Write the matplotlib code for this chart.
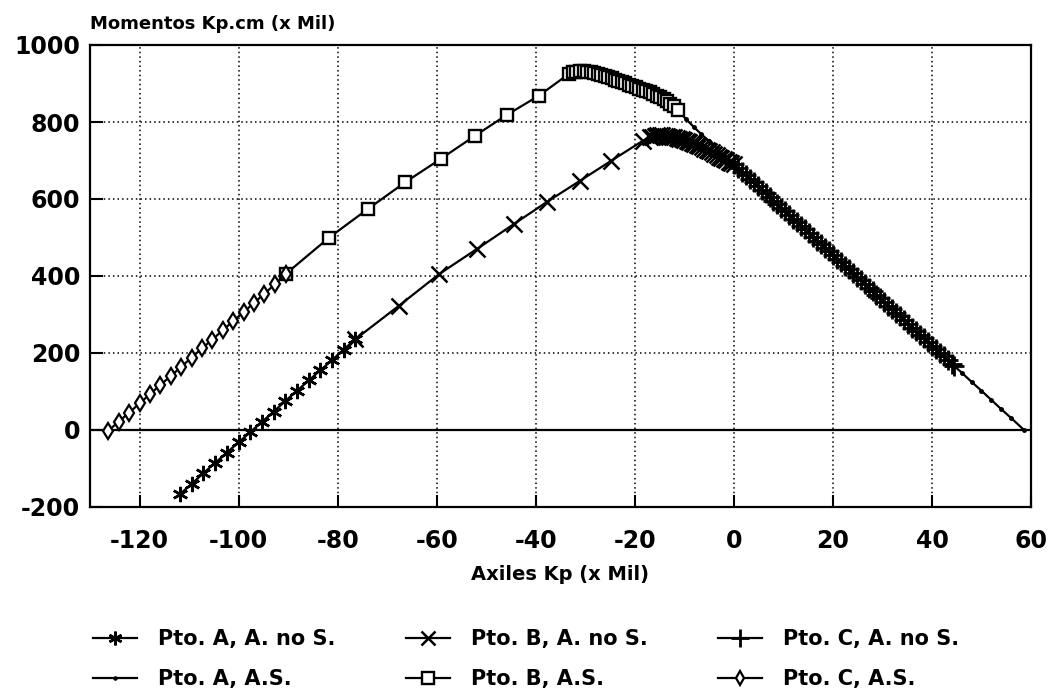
import matplotlib
matplotlib.use('Agg')
import matplotlib.pyplot as plt

# ----------------------------------------------------------------
# Data (Axiles Kp x Mil, Momentos Kp.cm x Mil)
# ----------------------------------------------------------------
# upper curve: Pto. C, A.S. (diamonds) -> Pto. B, A.S. (squares) -> Pto. A, A.S. (dots)
c_as_x = [-126.3, -124.2, -122.1, -120.0, -117.9, -115.8, -113.7, -111.6, -109.5,
          -107.4, -105.3, -103.2, -101.1, -99.0, -96.9, -94.8, -92.7, -90.5]
c_as_y = [-2, 22, 45, 69, 93, 117, 140, 164, 188,
          212, 235, 259, 283, 306, 330, 354, 378, 405]

b_as_x = [-90.5, -81.8, -73.9, -66.3, -59.2, -52.3, -45.9, -39.4,
          -33.3, -32.5, -31.8, -31.0, -30.3, -29.6, -28.9, -28.2, -27.5,
          -26.8, -26.1, -25.4, -24.7, -24.0, -23.3, -22.6, -21.9, -21.2,
          -20.5, -19.8, -19.1, -18.4, -17.7, -17.0, -16.3, -15.6, -14.9,
          -14.2, -13.5, -12.8, -12.1, -11.3]
b_as_y = [405, 499, 574, 644, 704, 764, 818, 868,
          925, 929, 931, 932, 932, 931, 929, 927, 925,
          922, 919, 916, 913, 910, 907, 903, 900, 897,
          893, 890, 886, 883, 880, 877, 873, 868, 864,
          859, 854, 848, 842, 832]

a_as_x = [-11.3, -9.7, -8.0, -6.7, -5.0, -3.5, -2.0, 0.0, 2.0, 4.0, 6.0, 8.0,
          10.0, 12.0, 14.0, 16.0, 18.0, 20.0, 22.0, 24.0, 26.0, 28.0, 30.0,
          32.0, 34.0, 36.0, 38.0, 40.0, 42.0, 44.0, 46.0, 48.0, 50.0, 52.0,
          54.0, 56.0, 58.6]
a_as_y = [832, 808, 786, 770, 750, 732, 714, 690, 666, 643, 619, 596,
          572, 549, 525, 502, 478, 455, 431, 408, 384, 360, 337,
          313, 290, 266, 243, 219, 196, 172, 149, 125, 102, 78,
          54, 31, 0]

# lower curve: Pto. A, A. no S. (asterisks) -> Pto. B (x) -> Pto. C (+)
a_nos_x = [-111.8, -109.4, -107.1, -104.7, -102.4, -100.0, -97.6, -95.3,
           -92.9, -90.6, -88.2, -85.8, -83.5, -81.1, -78.8, -76.4]
a_nos_y = [-166, -139, -112, -85, -59, -32, -5, 21,
           48, 75, 102, 129, 155, 182, 209, 236]

b_nos_x = [-76.4, -67.7, -59.5, -51.9, -44.4, -37.8, -31.1, -24.8, -18.4,
           -17.0, -16.5, -16.0, -15.5, -15.0, -14.5, -14.0, -13.5, -13.0,
           -12.5, -12.0, -11.5, -11.0, -10.5, -10.0, -9.5, -9.0, -8.5,
           -8.0, -7.5, -7.0, -6.5, -6.0, -5.5, -5.0, -4.5, -4.0, -3.5,
           -3.0, -2.5, -2.0, -1.5, -1.0, -0.5, 0.0]
b_nos_y = [236, 322, 405, 470, 535, 592, 647, 699, 751,
           760, 762, 764, 765, 765, 765, 764, 763, 762,
           761, 760, 758, 757, 755, 753, 751, 748, 746,
           743, 740, 737, 734, 731, 728, 724, 721, 717, 714,
           710, 707, 703, 700, 697, 693, 690]

c_nos_x = [0.0, 0.8, 1.6, 2.4, 3.2, 4.0, 4.8, 5.6, 6.4, 7.2, 8.0, 8.8, 9.6,
           10.4, 11.2, 12.0, 12.8, 13.6, 14.4, 15.2, 16.0, 16.8, 17.6, 18.4,
           19.2, 20.0, 20.8, 21.6, 22.4, 23.2, 24.0, 24.8, 25.6, 26.4, 27.2,
           28.0, 28.8, 29.6, 30.4, 31.2, 32.0, 32.8, 33.6, 34.4, 35.2, 36.0,
           36.8, 37.6, 38.4, 39.2, 40.0, 40.8, 41.6, 42.4, 43.2, 44.0, 44.4]
c_nos_y = [690, 681, 671, 662, 652, 643, 634, 624, 615, 605, 596, 586, 577,
           568, 558, 549, 539, 530, 521, 511, 502, 492, 483, 473,
           464, 455, 445, 436, 426, 417, 408, 398, 389, 379, 370,
           360, 351, 342, 332, 323, 313, 304, 295, 285, 276, 266,
           257, 247, 238, 229, 219, 210, 200, 191, 182, 172, 167]

x_ticks = [-120, -100, -80, -60, -40, -20, 0, 20, 40, 60]
y_ticks = [-200, 0, 200, 400, 600, 800, 1000]

BLACK = '#000000'

plt.rcParams['font.family'] = ['DejaVu Sans']
plt.rcParams['font.weight'] = 'bold'
plt.rcParams['axes.unicode_minus'] = False

fig = plt.figure(figsize=(10.49, 6.95), dpi=100)
ax = fig.add_axes([90 / 1049, 1 - 507 / 695, 941 / 1049, 462 / 695])
ax.set_xlim(-130, 60)
ax.set_ylim(-200, 1000)

# grid + zero line
for xv in x_ticks[:-1]:
    ax.axvline(xv, color=BLACK, lw=1.1, ls=(0, (1, 2)), zorder=1)
for yv in y_ticks[2:-1]:
    ax.axhline(yv, color=BLACK, lw=1.1, ls=(0, (1, 2)), zorder=1)
ax.axhline(0, color=BLACK, lw=1.6, zorder=2)

line_kw = dict(color=BLACK, lw=1.6, zorder=3)
h_a_nos, = ax.plot(a_nos_x, a_nos_y, marker=(6, 2, 0), ms=11, mew=1.8,
                   label='Pto. A, A. no S.', **line_kw)
h_b_nos, = ax.plot(b_nos_x, b_nos_y, marker='x', ms=11, mew=1.8,
                   label='Pto. B, A. no S.', **line_kw)
h_c_nos, = ax.plot(c_nos_x, c_nos_y, marker='+', ms=14, mew=2.0,
                   label='Pto. C, A. no S.', **line_kw)
h_a_as, = ax.plot(a_as_x, a_as_y, marker='.', ms=5,
                  label='Pto. A, A.S.', **line_kw)
h_b_as, = ax.plot(b_as_x, b_as_y, marker='s', ms=9, mew=1.7, mfc='white',
                  label='Pto. B, A.S.', **line_kw)
h_c_as, = ax.plot(c_as_x, c_as_y, marker='d', ms=8, mew=1.6, mfc='white',
                  label='Pto. C, A.S.', **line_kw)

# axes styling
ax.set_xticks(x_ticks)
ax.set_yticks(y_ticks)
ax.tick_params(direction='in', length=9, width=1.5, labelsize=17)
ax.tick_params(axis='x', pad=16)
ax.tick_params(axis='y', pad=7)
for lab in ax.get_xticklabels() + ax.get_yticklabels():
    lab.set_fontweight('bold')
for sp in ax.spines.values():
    sp.set_linewidth(1.6)

fig.text(90 / 1049, 1 - 24 / 695, 'Momentos Kp.cm (x Mil)',
         fontsize=13, fontweight='bold', ha='left', va='center')
fig.text(560 / 1049, 1 - 575 / 695, 'Axiles Kp (x Mil)',
         fontsize=14, fontweight='bold', ha='center', va='center')

handles = [h_a_nos, h_a_as, h_b_nos, h_b_as, h_c_nos, h_c_as]
fig.legend(handles=handles, labels=[h.get_label() for h in handles],
           loc='center', bbox_to_anchor=(526 / 1049, 1 - 659 / 695),
           ncol=3, frameon=False, prop={'size': 15, 'weight': 'bold'},
           handlelength=2.1, handletextpad=1.0, columnspacing=3.4,
           labelspacing=0.95, markerscale=0.9)

fig.savefig('out.png', dpi=100, facecolor='white')
